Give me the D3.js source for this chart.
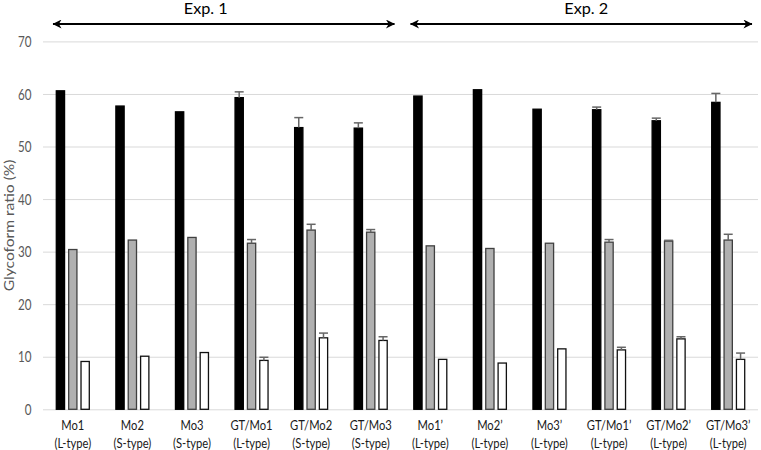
<!DOCTYPE html>
<html>
<head>
<meta charset="utf-8">
<script src="https://cdn.jsdelivr.net/npm/d3@7"></script>
<style>
body{margin:0;background:#fff;}
text{font-family:Lato,"Open Sans",sans-serif;}
</style>
</head>
<body>
<svg id="chart" width="761" height="450"></svg>
<script>
const categories = ["Mo1","Mo2","Mo3","GT/Mo1","GT/Mo2","GT/Mo3","Mo1\u2019","Mo2\u2019","Mo3\u2019","GT/Mo1\u2019","GT/Mo2\u2019","GT/Mo3\u2019"];
const types = ["(L-type)","(S-type)","(S-type)","(L-type)","(S-type)","(S-type)","(L-type)","(L-type)","(L-type)","(L-type)","(L-type)","(L-type)"];
const series = ["A","B","C"];
const valuesA = [60.6,57.7,56.6,59.3,53.6,53.5,59.6,60.8,57.1,57.0,54.9,58.4];
const valuesB = [30.4,32.2,32.7,31.6,34.1,33.7,31.1,30.6,31.6,31.8,32.0,32.2];
const valuesC = [9.1,10.1,10.8,9.3,13.6,13.1,9.5,8.8,11.5,11.3,13.4,9.5];
const errA = [0,0,0,1.1,1.9,1.0,0,0,0,0.5,0.5,1.7];
const errB = [0,0,0,0.7,1.1,0.5,0,0,0,0.5,0.15,1.1];
const errC = [0,0,0,0.6,0.9,0.7,0,0,0,0.5,0.4,1.2];
const yTicks = [0,10,20,30,40,50,60,70];
const groups = [{label:"Exp. 1", from:0, to:5},{label:"Exp. 2", from:6, to:11}];
const yTitle = "Glycoform ratio (%)";

const svg = d3.select("#chart");
const mLeft = 43, mRight = 758, mTop = 41.4, mBottom = 409.3;
const x = d3.scaleBand().domain(categories).range([mLeft,mRight]).padding(0);
const xs = d3.scaleBand().domain(series).range([-17,17]).paddingInner(0.25);
const y = d3.scaleLinear().domain([0,70]).range([mBottom,mTop]);

const fills = {A:"#000000",B:"#b0b0b0",C:"#ffffff"};
const strokes = {A:"#000000",B:"#404040",C:"#111111"};
const vals = {A:valuesA,B:valuesB,C:valuesC};
const errs = {A:errA,B:errB,C:errC};

// grid
const yAxis = d3.axisLeft(y).tickValues(yTicks).tickSize(-(mRight-mLeft)).tickFormat("");
const gy = svg.append("g").attr("transform",`translate(${mLeft},0)`).call(yAxis);
gy.select(".domain").remove();
gy.selectAll(".tick line").attr("stroke","#d9d9d9").attr("stroke-width",1);
// tick labels (horizontally condensed like the reference)
yTicks.forEach(t=>{
  svg.append("text").attr("transform",`translate(31.5,${y(t)}) scale(0.75,1)`)
    .attr("text-anchor","end").attr("dy","0.36em").attr("fill","#595959")
    .style("font-size","15.5px").text(t);
});

// y title
svg.append("text").attr("transform",`translate(13.5,${(mTop+mBottom)/2}) rotate(-90) scale(1.2,1)`)
  .attr("text-anchor","middle").attr("fill","#595959").style("font-size","13px").text(yTitle);

// bars
categories.forEach((c,i)=>{
  const cx = x(c)+x.bandwidth()/2;
  series.forEach(s=>{
    const v = vals[s][i];
    svg.append("rect")
      .attr("x",cx+xs(s)+0.5).attr("y",y(v))
      .attr("width",xs.bandwidth()-1).attr("height",y(0)-y(v))
      .attr("fill",fills[s]).attr("stroke",strokes[s]).attr("stroke-width",1.3);
  });
  series.forEach(s=>{
    const v = vals[s][i], e = errs[s][i];
    if(e>0){
      const ex = cx+xs(s)+xs.bandwidth()/2;
      svg.append("line").attr("x1",ex).attr("x2",ex).attr("y1",y(v)).attr("y2",y(v+e))
        .attr("stroke","#666666").attr("stroke-width",1.5);
      svg.append("line").attr("x1",ex-4.5).attr("x2",ex+4.5).attr("y1",y(v+e)).attr("y2",y(v+e))
        .attr("stroke","#666666").attr("stroke-width",1.5);
    }
  });
});

// x labels
categories.forEach((c,i)=>{
  const cx = x(c)+x.bandwidth()/2;
  svg.append("text").attr("transform",`translate(${cx},430) scale(0.8,1)`)
    .attr("text-anchor","middle").attr("fill","#1a1a1a").style("font-size","14px").text(c);
  svg.append("text").attr("transform",`translate(${cx},447.5) scale(0.8,1)`)
    .attr("text-anchor","middle").attr("fill","#1a1a1a").style("font-size","14px").text(types[i]);
});

// arrows
const defs = svg.append("defs");
defs.append("marker").attr("id","ah").attr("viewBox","0 0 10 10").attr("refX",9.5).attr("refY",5)
  .attr("markerUnits","userSpaceOnUse").attr("markerWidth",10).attr("markerHeight",9)
  .attr("orient","auto-start-reverse")
  .append("path").attr("d","M0,0 L10,5 L0,10 L3,5 Z").attr("fill","#000");
const labelDx = [-18, 5];
groups.forEach((g,k)=>{
  const x1 = x(categories[g.from])+10, x2 = x(categories[g.to])+x.bandwidth()-6;
  svg.append("line").attr("x1",x1).attr("x2",x2).attr("y1",24).attr("y2",24)
    .attr("stroke","#000").attr("stroke-width",1.8)
    .attr("marker-start","url(#ah)").attr("marker-end","url(#ah)");
  svg.append("text").attr("transform",`translate(${(x1+x2)/2+labelDx[k]},14) scale(1.12,1)`)
    .attr("text-anchor","middle").attr("fill","#000").style("font-size","14.5px").text(g.label);
});
</script>
</body>
</html>
